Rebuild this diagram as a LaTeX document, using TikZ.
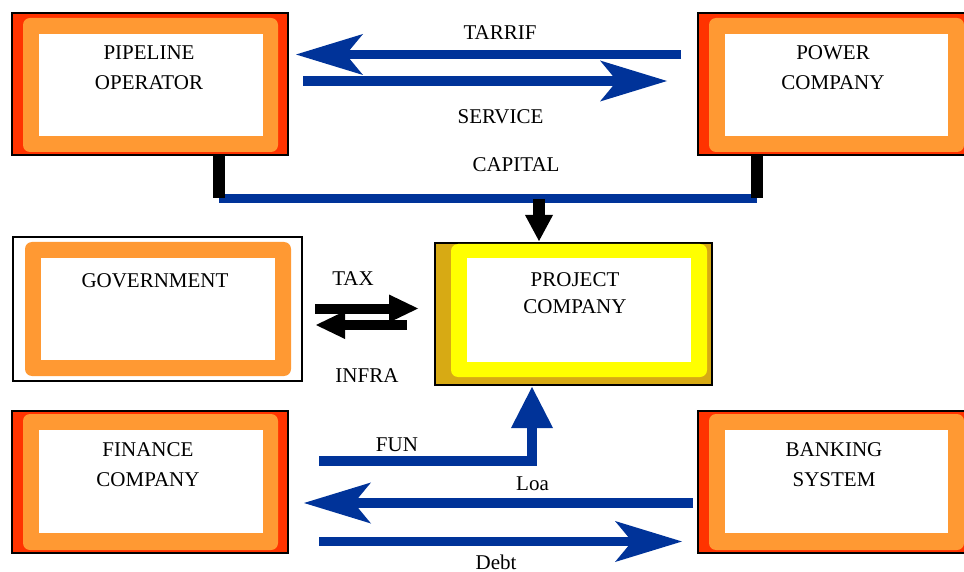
\documentclass[tikz,border=0pt]{standalone}
\usepackage{fontspec}
\setmainfont{Liberation Serif}
\usetikzlibrary{arrows.meta}

\definecolor{flowblue}{RGB}{0,51,153}
\definecolor{rimred}{RGB}{255,51,0}
\definecolor{rimorange}{RGB}{255,153,51}
\definecolor{rimgold}{RGB}{215,170,20}
\definecolor{rimyellow}{RGB}{255,255,0}

\begin{document}
\begin{tikzpicture}[x=1pt,y=-1pt,
  frame/.style={draw=black, line width=2pt, inner sep=0pt, minimum width=276pt, minimum height=142pt},
  band/.style={rounded corners=7pt},
  caption/.style={font=\fontsize{21}{30}\selectfont, align=center, inner sep=0pt},
  blueflow/.style={draw=flowblue, line width=9.5pt,
    -{Stealth[length=67pt,width=41pt,inset=17pt,line width=0pt]}},
  blackflow/.style={draw=black, line width=10pt,
    -{Triangle[length=29pt,width=28pt,line width=0pt]}},
]
\useasboundingbox (0,0) rectangle (964,572);

% ---------- PIPELINE OPERATOR ----------
\node[frame, fill=rimred] (pipeline) at (150,84) {};
\fill[rimorange, band] (23,18) rectangle (278,152);
\fill[white] (39,34) rectangle (263,136);
\node[caption] (pipelinetext) at (149,68) {PIPELINE\\OPERATOR};

% ---------- POWER COMPANY ----------
\node[frame, fill=rimred] (power) at (836,84) {};
\fill[rimorange, band] (709,18) rectangle (964,152);
\fill[white] (725,34) rectangle (948,136);
\node[caption] (powertext) at (833,68) {POWER\\COMPANY};

% ---------- GOVERNMENT ----------
\node[frame, fill=white, minimum width=289pt, minimum height=144pt] (gov) at (157.5,309) {};
\fill[rimorange, band] (25,242) rectangle (291,376);
\fill[white] (41,258) rectangle (275,360);
\node[caption] (govtext) at (155,281) {GOVERNMENT};

% ---------- PROJECT COMPANY ----------
\node[frame, fill=rimgold, minimum width=277pt] (project) at (573.5,314) {};
\fill[rimyellow, band] (451,244) rectangle (707,377);
\fill[white] (467,258) rectangle (691,362);
\node[caption, align=center] (projecttext) at (575,293) {PROJECT\\[-3pt]COMPANY};

% ---------- FINANCE COMPANY ----------
\node[frame, fill=rimred] (finance) at (150,482) {};
\fill[rimorange, band] (23,414) rectangle (278,550);
\fill[white] (39,430) rectangle (263,533);
\node[caption] (financetext) at (148,465) {FINANCE\\COMPANY};

% ---------- BANKING SYSTEM ----------
\node[frame, fill=rimred] (banking) at (836,482) {};
\fill[rimorange, band] (709,414) rectangle (964,550);
\fill[white] (725,430) rectangle (948,533);
\node[caption] (bankingtext) at (834,465) {BANKING\\SYSTEM};

% ---------- connector end points ----------
\coordinate (tarS) at (681,54.5);   \coordinate (tarE) at (296,54.5);
\coordinate (srvS) at (303,81);     \coordinate (srvE) at (667,81);
\coordinate (capL) at (219,198.5);  \coordinate (capR) at (757,198.5);
\coordinate (stubL) at (219,156);   \coordinate (stubLb) at (219,198);
\coordinate (stubR) at (757,156);   \coordinate (stubRb) at (757,198);
\coordinate (capS) at (539,199);    \coordinate (capE) at (539,241);
\coordinate (taxS) at (315,308.5);  \coordinate (taxE) at (418,308.5);
\coordinate (infS) at (407,325);    \coordinate (infE) at (316,325);
\coordinate (funS) at (319,461);    \coordinate (funC) at (532,461);
\coordinate (funE) at (532,387);
\coordinate (loaS) at (693,503);    \coordinate (loaE) at (304,503);
\coordinate (debS) at (319,541.5);  \coordinate (debE) at (682,541.5);

% ---------- flows ----------
\draw[blueflow] (tarS) -- (tarE);
\draw[blueflow] (srvS) -- (srvE);

\draw[flowblue, line width=9pt] (capL) -- (capR);
\draw[black, line width=12pt] (stubL) -- (stubLb);
\draw[black, line width=12pt] (stubR) -- (stubRb);
\draw[black, line width=12pt, -{Triangle[length=26pt,width=28pt,line width=0pt]}] (capS) -- (capE);

\draw[blackflow] (taxS) -- (taxE);
\draw[blackflow] (infS) -- (infE);

\draw[draw=flowblue, line width=10pt, -{Triangle[length=41pt,width=42pt,line width=0pt]}]
  (funS) -- (funC) -- (funE);

\draw[blueflow] (loaS) -- (loaE);
\draw[blueflow] (debS) -- (debE);

% ---------- flow labels ----------
\node[caption] (tarrif) at (500,32.5) {TARRIF};
\node[caption] (service) at (500.5,117) {SERVICE};
\node[caption] (capital) at (516,164.5) {CAPITAL};
\node[caption] (tax) at (353,278.5) {TAX};
\node[caption] (infra) at (367,376) {INFRA};
\node[caption] (fun) at (397,444.5) {FUN};
\node[caption, anchor=base] (loa) at (532.5,490) {Loa};
\node[caption, anchor=base] (debt) at (496,569) {Debt};
\end{tikzpicture}
\end{document}
